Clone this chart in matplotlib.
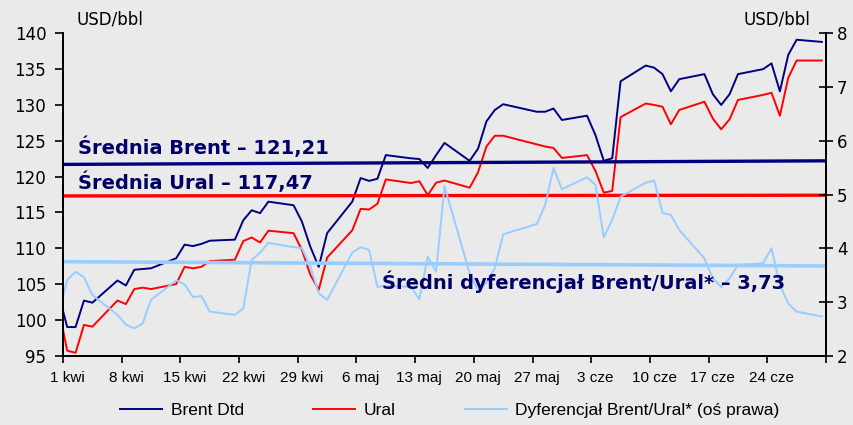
import matplotlib
matplotlib.use("Agg")
import matplotlib.pyplot as plt
import matplotlib.dates as mdates
import pandas as pd
from matplotlib.ticker import FixedLocator, FixedFormatter, NullFormatter
from matplotlib import font_manager

# ---------------- data ----------------
dates = [
    "2008-03-31",
    "2008-04-01", "2008-04-02", "2008-04-03", "2008-04-04", "2008-04-07", "2008-04-08",
    "2008-04-09", "2008-04-10", "2008-04-11", "2008-04-14", "2008-04-15", "2008-04-16",
    "2008-04-17", "2008-04-18", "2008-04-21", "2008-04-22", "2008-04-23", "2008-04-24",
    "2008-04-25", "2008-04-28", "2008-04-29", "2008-04-30",
    "2008-05-01", "2008-05-02", "2008-05-05", "2008-05-06", "2008-05-07", "2008-05-08",
    "2008-05-09", "2008-05-12", "2008-05-13", "2008-05-14", "2008-05-15", "2008-05-16",
    "2008-05-19", "2008-05-20", "2008-05-21", "2008-05-22", "2008-05-23", "2008-05-27",
    "2008-05-28", "2008-05-29", "2008-05-30",
    "2008-06-02", "2008-06-03", "2008-06-04", "2008-06-05", "2008-06-06", "2008-06-09",
    "2008-06-10", "2008-06-11", "2008-06-12", "2008-06-13", "2008-06-16", "2008-06-17",
    "2008-06-18", "2008-06-19", "2008-06-20", "2008-06-23", "2008-06-24", "2008-06-25",
    "2008-06-26", "2008-06-27", "2008-06-30",
]

brent = [
    103.5,
    99.0, 99.0, 102.7, 102.4, 105.5, 104.8,
    107.0, 107.1, 107.2, 108.6, 110.5, 110.3,
    110.6, 111.05, 111.2, 113.9, 115.3, 114.9,
    116.5, 116.0, 113.7, 110.2,
    107.4, 112.1, 116.5, 119.8, 119.4, 119.7,
    123.0, 122.55, 122.45, 121.2, 123.0, 124.7,
    122.2, 123.9, 127.7, 129.3, 130.1, 129.05,
    129.05, 129.5, 127.9,
    128.5, 125.8, 122.2, 122.55, 133.3, 135.5,
    135.2, 134.3, 131.9, 133.6, 134.3, 131.5,
    130.0, 131.5, 134.3, 135.0, 135.8, 131.9,
    137.0, 139.1, 138.8,
]

ural = [
    101.5,
    95.7, 95.4, 99.3, 99.05, 102.7, 102.2,
    104.3, 104.5, 104.3, 105.0, 107.4, 107.2,
    107.4, 108.2, 108.4, 111.0, 111.5, 110.8,
    112.45, 112.1, 109.75, 106.3,
    104.2, 108.7, 112.5, 115.5, 115.4, 116.2,
    119.6, 119.1, 119.35, 117.4, 119.15, 119.45,
    118.45, 120.6, 124.2, 125.7, 125.7, 124.5,
    124.2, 124.0, 122.6,
    123.0, 120.8, 117.75, 118.0, 128.3, 130.2,
    130.0, 129.75, 127.3, 129.3, 130.45, 128.1,
    126.6, 128.0, 130.7, 131.4, 131.7, 128.5,
    133.8, 136.2, 136.2,
]

diff = [
    2.81,
    3.41, 3.56, 3.46, 3.13, 2.76, 2.58,
    2.51, 2.60, 3.04, 3.40, 3.33, 3.09,
    3.11, 2.82, 2.76, 2.88, 3.78, 3.92,
    4.10, 4.02, 4.00, 3.66,
    3.16, 3.04, 3.92, 4.02, 3.97, 3.28,
    3.30, 3.28, 3.05, 3.84, 3.56, 5.16,
    3.53, 3.22, 3.36, 3.63, 4.26, 4.45,
    4.80, 5.49, 5.10,
    5.32, 5.18, 4.20, 4.53, 4.96, 5.22,
    5.26, 4.66, 4.62, 4.34, 3.81, 3.44,
    3.28, 3.44, 3.69, 3.72, 4.00, 3.32,
    2.97, 2.82, 2.73,
]

# average reference lines (start / end levels as drawn)
brent_avg_line = [121.7, 122.2]
ural_avg_line = [117.3, 117.4]
diff_avg_line = [3.75, 3.67]
avg_texts = ["Średnia Brent – 121,21", "Średnia Ural – 117,47",
             "Średni dyferencjał Brent/Ural* – 3,73"]

tick_dates = ["2008-04-01", "2008-04-08", "2008-04-15", "2008-04-22", "2008-04-29",
              "2008-05-06", "2008-05-13", "2008-05-20", "2008-05-27", "2008-06-03",
              "2008-06-10", "2008-06-17", "2008-06-24", "2008-07-01"]
tick_labels = ["1 kwi", "8 kwi", "15 kwi", "22 kwi", "29 kwi", "6 maj", "13 maj",
               "20 maj", "27 maj", "3 cze", "10 cze", "17 cze", "24 cze"]

legend_labels = ["Brent Dtd", "Ural", "Dyferencjał Brent/Ural* (oś prawa)"]

# ---------------- figure ----------------
BG = "#EAEAEA"
NAVY = "#000080"
TXT = "#000066"
RED = "#FF0000"
LBLUE = "#99CCFF"

installed = {f.name for f in font_manager.fontManager.ttflist}
narrow = [f for f in ["Liberation Sans Narrow", "DejaVu Sans Condensed"] if f in installed]
narrow = narrow + ["Liberation Sans", "DejaVu Sans"]

fig = plt.figure(figsize=(8.54, 4.25), dpi=100, facecolor=BG)
ax = fig.add_axes([63 / 854, 1 - 355.7 / 425, (826 - 63) / 854, (355.7 - 33.3) / 425])
ax.set_facecolor(BG)
ax2 = ax.twinx()

x = mdates.date2num(pd.to_datetime(dates)) + 0.5
x0 = mdates.date2num(pd.Timestamp("2008-04-01"))
x1 = mdates.date2num(pd.Timestamp("2008-07-01"))

l1, = ax.plot(x, brent, color=NAVY, lw=1.4, label=legend_labels[0], zorder=3)
l2, = ax.plot(x, ural, color=RED, lw=1.4, label=legend_labels[1], zorder=3)
l3, = ax2.plot(x, diff, color=LBLUE, lw=1.4, label=legend_labels[2], zorder=2)

ax.plot([x0, x1], brent_avg_line, color=NAVY, lw=2.4, zorder=4)
ax.plot([x0, x1], ural_avg_line, color=RED, lw=2.4, zorder=4)
ax2.plot([x0, x1], diff_avg_line, color=LBLUE, lw=2.6, zorder=2)

ax.set_xlim(x0, x1)
ax.set_ylim(95, 140)
ax2.set_ylim(2, 8)
ax.set_yticks(range(95, 141, 5))
ax2.set_yticks(range(2, 9))

tick_x = mdates.date2num(pd.to_datetime(tick_dates))
ax.xaxis.set_major_locator(FixedLocator(tick_x))
ax.xaxis.set_major_formatter(NullFormatter())
ax.xaxis.set_minor_locator(FixedLocator(tick_x[:-1] + 0.5))
ax.xaxis.set_minor_formatter(FixedFormatter(tick_labels))

ax.tick_params(axis="x", which="major", direction="out", length=5, width=1.2, color="black")
ax.tick_params(axis="x", which="minor", length=0, pad=11, labelsize=11)
for t in ax.get_xticklabels(minor=True):
    t.set_family(narrow)

ax.tick_params(axis="y", direction="out", length=6, width=1.2, labelsize=12, pad=6)
ax2.tick_params(axis="y", direction="inout", length=10, width=1.2, labelsize=12, pad=3)

for a in (ax, ax2):
    a.spines["top"].set_visible(False)
    for s in ["left", "right", "bottom"]:
        a.spines[s].set_linewidth(1.4)
        a.spines[s].set_color("black")

fig.text(77 / 854, 1 - 20 / 425, "USD/bbl", fontsize=12, ha="left", va="center")
fig.text(810 / 854, 1 - 20 / 425, "USD/bbl", fontsize=12, ha="right", va="center")

fig.text(78 / 854, 1 - 147 / 425, avg_texts[0], fontsize=14, fontweight="bold",
         color=TXT, ha="left", va="center")
fig.text(78 / 854, 1 - 182 / 425, avg_texts[1], fontsize=14, fontweight="bold",
         color=TXT, ha="left", va="center")
fig.text(382 / 854, 1 - 282 / 425, avg_texts[2], fontsize=14, fontweight="bold",
         color=TXT, ha="left", va="center")

leg = fig.legend([l1, l2, l3], legend_labels, loc="center", ncol=3,
                 bbox_to_anchor=(450 / 854, 1 - 410 / 425), frameon=False,
                 prop={"family": narrow, "size": 12.5}, handlelength=2.4,
                 columnspacing=4.0, handletextpad=0.5)

fig.savefig("out.png", dpi=100, facecolor=BG)
